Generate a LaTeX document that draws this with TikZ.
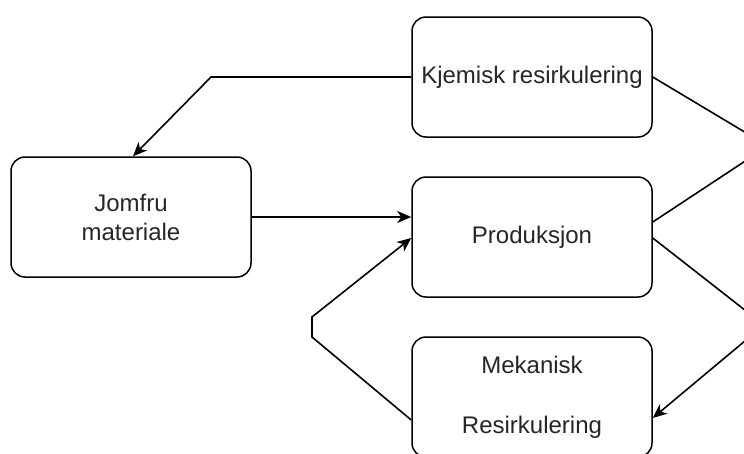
\documentclass[tikz,border=0pt]{standalone}
\usepackage{fontspec}
\setmainfont{Liberation Sans}
\usetikzlibrary{arrows.meta,calc}
\begin{document}
\begin{tikzpicture}[x=1pt,y=-1pt,
  box/.style={draw=black, line width=1.5pt, rounded corners=14pt, minimum width=240pt,
    minimum height=120pt, inner sep=0pt, align=center,
    font=\fontsize{24}{29}\selectfont, fill=white, text=black!85},
  link/.style={line width=1.6pt, draw=black},
  arr/.style={link, -{Stealth[length=14pt,width=12pt,inset=4pt]}}]
\useasboundingbox (0,0) rectangle (744,453);
\clip (0,0) rectangle (744,453);
\node[box] (J) at (131,217) {Jomfru\\materiale};
\node[box] (K) at (532,77) {Kjemisk resirkulering};
\node[box] (P) at (532,237) {Produksjon};
\node[box] (M) at (532,397) {Mekanisk\\[31pt]Resirkulering};
\coordinate (k1) at (211,77);
\coordinate (m1) at (312,337);
\coordinate (m2) at (312,317);
\coordinate (r1) at (768,146);
\coordinate (r2) at (764,325);
\draw[arr] (K.west) -- (k1) -- ([xshift=2pt]J.north);
\draw[arr] (J.east) -- (J.east -| P.west);
\draw[arr] ([yshift=-23pt]M.west) -- (m1) -- (m2) -- ([yshift=-1pt]P.west);
\draw[link] (K.east) -- (r1) -- ([yshift=15pt]P.east);
\draw[arr] ([yshift=-1pt]P.east) -- (r2) -- ([yshift=-21pt]M.east);
\end{tikzpicture}
\end{document}
